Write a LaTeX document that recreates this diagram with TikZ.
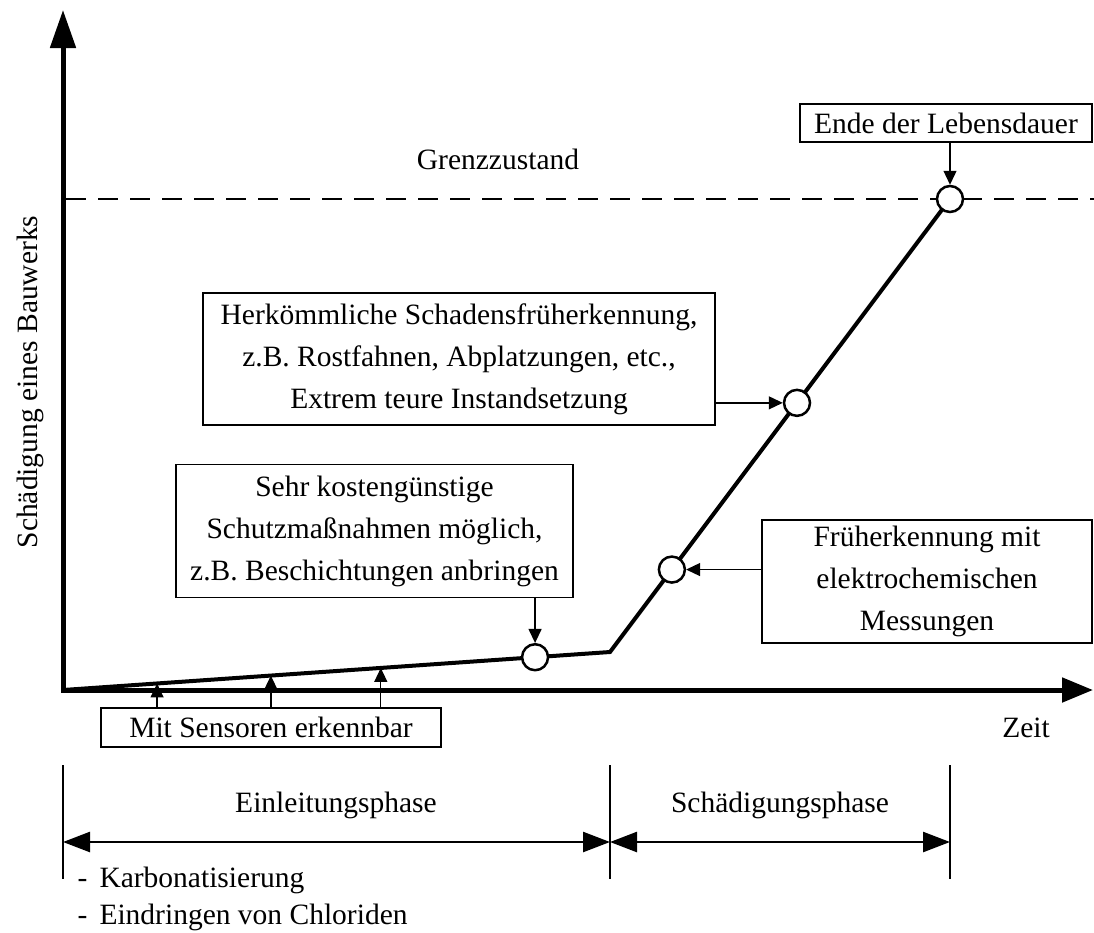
\documentclass[tikz,border=0pt]{standalone}
\usepackage{fontspec}
\setmainfont{Liberation Serif}
\usepackage{tikz}
\usetikzlibrary{arrows.meta}

\begin{document}
\begin{tikzpicture}[x=1pt, y=-1pt,
        every node/.style={font=\fontsize{29.5}{42}\selectfont},
        box/.style={draw, line width=1.3pt, align=center, inner sep=0pt},
        punkt/.style={circle, draw, line width=2.5pt, fill=white,
                      minimum size=26pt, inner sep=0pt},
        pfeil/.style={line width=1.3pt, -{Triangle[length=14pt,width=13pt]}},
        mass/.style={line width=2.5pt,
                     {Triangle[length=27pt,width=20pt]}-{Triangle[length=27pt,width=20pt]}}]
    \useasboundingbox (0,0) rectangle (1094,932);

    % Achsen
    \coordinate (o) at (63,690);
    \coordinate (knick) at (610,652);
    \coordinate (grenze) at (950,199);
    \draw[line width=5pt, {Triangle[length=38pt,width=25pt]}-{Triangle[length=31pt,width=24pt]}]
        (63,10) -- (o) -- (1093,690);
    \draw[line width=2.5pt, dash pattern=on 20pt off 12pt] (66,199) -- (1094,199);

    \node (grenz) at (498,159) {Grenzzustand};
    \node (zeit) at (1026,728) {Zeit};
    \node[rotate=90] (ylabel) at (30,382) {Schädigung eines Bauwerks};

    % Schadensverlauf
    \draw[line width=4pt, line join=miter] (o) -- (knick) -- (grenze);
    \path (o) -- (knick)
        node[punkt, pos=0.863] (p1) {}
        coordinate[pos=0.172] (s1)
        coordinate[pos=0.380] (s2)
        coordinate[pos=0.581] (s3);
    \path (knick) -- (grenze)
        node[punkt, pos=0.182] (p2) {}
        node[punkt, pos=0.55] (p3) {}
        node[punkt, pos=1] (p4) {};

    % Kaesten
    \node[box, minimum width=292pt, minimum height=38pt] (ende) at (946,123) {Ende der Lebensdauer};
    \node[box, minimum width=512pt, minimum height=132pt] (herk) at (459,359)
        {Herkömmliche Schadensfrüherkennung,\\ z.B. Rostfahnen, Abplatzungen, etc.,\\ Extrem teure Instandsetzung};
    \node[box, minimum width=397pt, minimum height=133pt] (sehr) at (374.5,531)
        {Sehr kostengünstige\\ Schutzmaßnahmen möglich,\\ z.B. Beschichtungen anbringen};
    \node[box, minimum width=330pt, minimum height=123pt] (frueh) at (927,581.5)
        {Früherkennung mit\\ elektrochemischen\\ Messungen};
    \node[box, minimum width=340pt, minimum height=39pt] (sensor) at (271,727.5) {Mit Sensoren erkennbar};

    \draw[pfeil] (p4 |- ende.south) -- (p4.north);
    \draw[pfeil] (herk.east |- p3) -- (p3.west);
    \draw[pfeil] (frueh.west |- p2) -- (p2.east);
    \draw[pfeil] (p1 |- sehr.south) -- (p1.north);
    \foreach \s in {s1,s2,s3}
        \draw[pfeil] (\s |- sensor.north) -- (\s);

    % Phasen
    \foreach \x in {63,610,950}
        \draw[line width=2.5pt] (\x,765) -- (\x,879);
    \draw[mass] (63,842) -- (610,842);
    \draw[mass] (610,842) -- (950,842);
    \node (einl) at (336,805) {Einleitungsphase};
    \node (schad) at (780,805) {Schädigungsphase};

    \node[anchor=west] (karb) at (74,880) {\makebox[22pt][l]{-}Karbonatisierung};
    \node[anchor=west] (chlor) at (74,917) {\makebox[22pt][l]{-}Eindringen von Chloriden};
\end{tikzpicture}
\end{document}
